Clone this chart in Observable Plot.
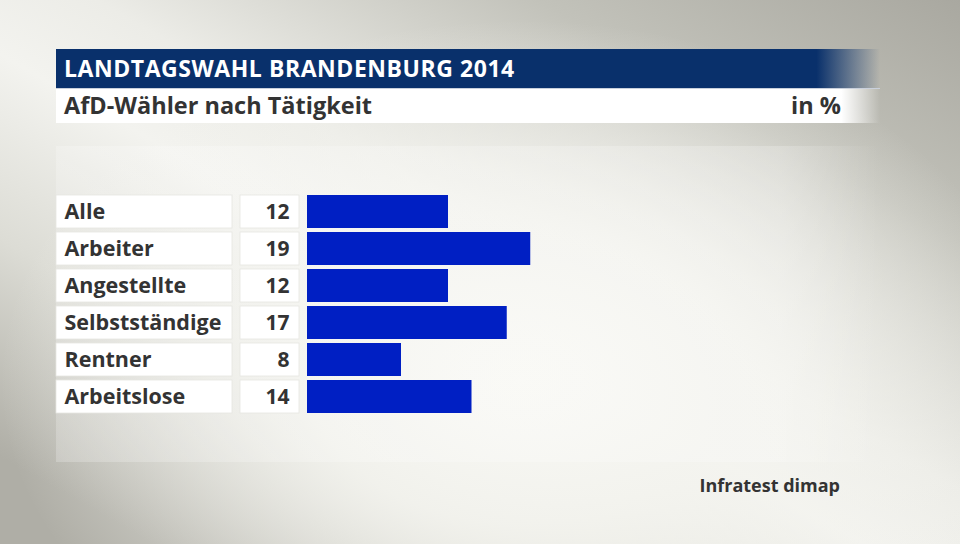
<!DOCTYPE html>
<html><head><meta charset="utf-8">
<script src="https://cdn.jsdelivr.net/npm/d3@7"></script>
<script src="https://cdn.jsdelivr.net/npm/@observablehq/plot@0.6"></script>
<style>
html,body{margin:0;padding:0;}
body{width:960px;height:544px;overflow:hidden;position:relative;font-family:"Open Sans",sans-serif;
  background:
    radial-gradient(ellipse 520px 360px at 520px 380px, rgba(248,248,244,1) 0%, rgba(244,244,239,0.9) 40%, rgba(244,244,239,0) 100%),
    linear-gradient(to bottom left, #a9a8a0 0%, #c2c2ba 22%, #ecece7 45%, #f3f3ef 55%, #dcdcd5 72%, #afaea6 92%);
}
.bar{position:absolute;left:56px;width:824px;box-sizing:border-box;padding-left:8px;white-space:nowrap;font-weight:700;}
#title{top:49px;height:39px;line-height:39px;font-size:23px;letter-spacing:0.55px;color:#fff;
  background:linear-gradient(to right,#09306b 0%,#09306b 92.3%,rgba(9,48,107,0) 100%);}
#subtitle{top:88px;height:34.5px;line-height:32px;font-size:23.5px;color:#333;
  background:linear-gradient(to right,#fff 0%,#fff 95.3%,rgba(255,255,255,0) 100%);
  border-top:1px solid #c9d0dc;}
#unit{position:absolute;right:39px;top:0;}
#panel{position:absolute;left:56px;top:146px;width:824px;height:316px;
  background:linear-gradient(to right,rgba(255,255,255,0.22) 0%,rgba(255,255,255,0.22) 88%,rgba(255,255,255,0) 100%);}
#chart{position:absolute;left:0;top:146px;}
#source{position:absolute;right:120px;top:476px;font-size:18px;line-height:18px;font-weight:700;color:#333;}
</style></head>
<body>
<div id="title" class="bar">LANDTAGSWAHL BRANDENBURG 2014</div>
<div id="subtitle" class="bar">AfD-Wähler nach Tätigkeit<span id="unit">in %</span></div>
<div id="panel"></div>
<div id="chart"></div>
<div id="source">Infratest dimap</div>
<script>
const categories = ["Alle","Arbeiter","Angestellte","Selbstständige","Rentner","Arbeitslose"];
const values = [12,19,12,17,8,14];
const data = categories.map((c,i)=>({label:c, value:values[i]}));

function cellBackgrounds(index, scales) {
  const y = scales.y;
  const bw = y.bandwidth ? y.bandwidth() : 33.5;
  const g = d3.create("svg:g");
  for (const c of categories) {
    const y0 = y(c);
    g.append("rect").attr("x",56).attr("y",y0).attr("width",176).attr("height",bw)
      .attr("fill","#fff").attr("stroke","#e6e6e2").attr("stroke-width",0.8);
    g.append("rect").attr("x",240).attr("y",y0).attr("width",59).attr("height",bw)
      .attr("fill","#fff").attr("stroke","#e6e6e2").attr("stroke-width",0.8);
  }
  return g.node();
}

const chart = Plot.plot({
  width: 960, height: 316,
  marginTop: 47.5, marginBottom: 47.5, marginLeft: 307, marginRight: 418,
  x: {domain:[0,20], axis:null},
  y: {domain: categories, axis:null, paddingInner: 0.107, paddingOuter: 0},
  style: {background:"transparent", overflow:"visible", fontFamily:"'Open Sans', sans-serif"},
  marks: [
    cellBackgrounds,
    Plot.barX(data, {x:"value", y:"label", fill:"#001fc3"}),
    Plot.text(data, {y:"label", text:"label", frameAnchor:"left", dx:-243, textAnchor:"start",
      fontSize:21.5, fontWeight:700, fill:"#333"}),
    Plot.text(data, {y:"label", text:d=>String(d.value), frameAnchor:"left", dx:-18, textAnchor:"end",
      fontSize:21, fontWeight:700, fill:"#333"})
  ]
});
document.getElementById("chart").appendChild(chart);
</script>
</body></html>
